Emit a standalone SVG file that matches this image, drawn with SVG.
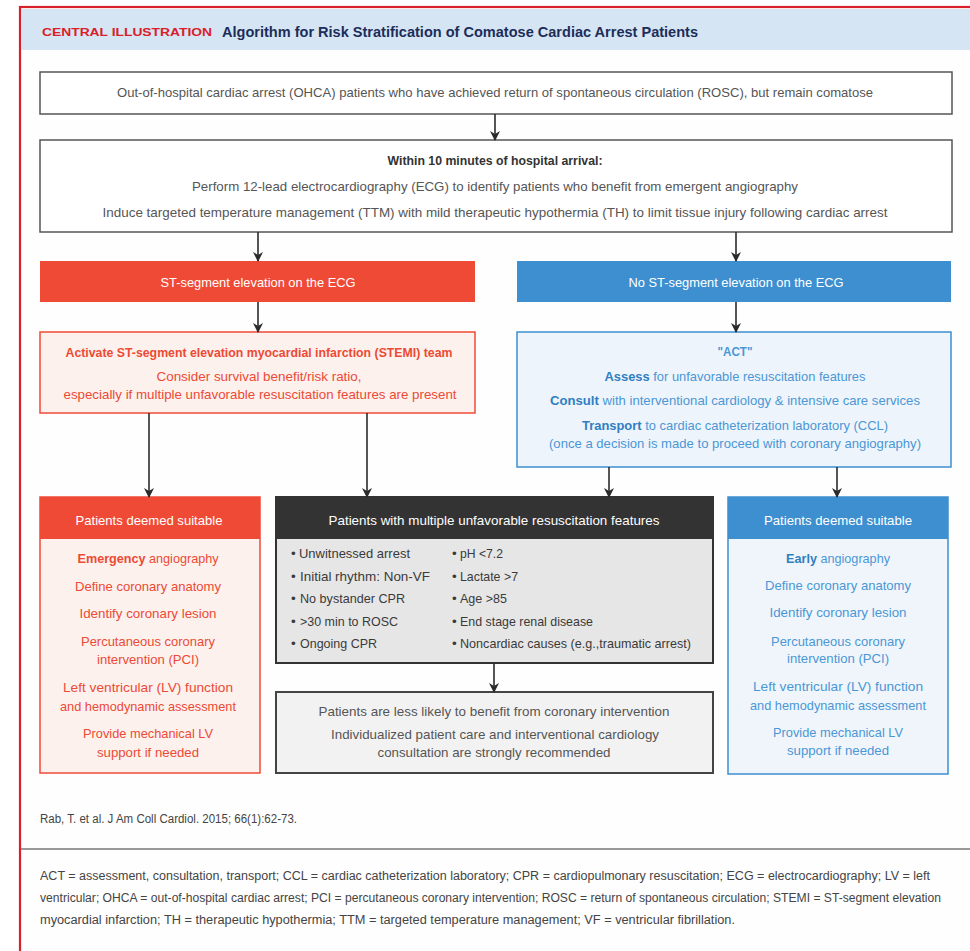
<svg xmlns="http://www.w3.org/2000/svg" width="970" height="951" viewBox="0 0 970 951">
<defs>
<marker id="ah" markerWidth="10" markerHeight="12" refX="9" refY="5" orient="auto" markerUnits="userSpaceOnUse">
<path d="M0,0 L10,5 L0,10 L3,5 z" fill="#2b2b2b"/>
</marker>
<style>
text{font-family:"Liberation Sans","Noto Sans",Arial,sans-serif;}
.gray{fill:#555;font-size:13.5px;}
.grayb{fill:#333;font-size:13.5px;}
.white{fill:#fff;font-size:13.5px;}
.red{fill:#ec4a34;font-size:13.5px;}
.blue{fill:#4a97d6;font-size:13.5px;}
.b{font-weight:bold;}
.dk{fill:#3a3a3a;font-size:13.5px;}
.foot{fill:#444;font-size:12px;}
.conn line{stroke:#2b2b2b;stroke-width:1.6;marker-end:url(#ah);}
</style>
</defs>
<rect x="0" y="0" width="970" height="951" fill="#fff"/>
<rect x="20" y="7" width="960" height="960" fill="#fefefe" stroke="#d9202a" stroke-width="2.2"/>
<rect x="21" y="9" width="949" height="41" fill="#d6e5f3"/>
<text x="42" y="36" fill="#d9202a" font-size="11" font-weight="bold" textLength="170" lengthAdjust="spacingAndGlyphs">CENTRAL ILLUSTRATION</text>
<text x="222" y="37" fill="#1c2d5a" font-size="15" font-weight="bold" textLength="476" lengthAdjust="spacingAndGlyphs">Algorithm for Risk Stratification of Comatose Cardiac Arrest Patients</text>

<g id="ohca">
<rect x="40" y="72" width="912" height="42" fill="#fff" stroke="#555" stroke-width="1.5"/>
<text class="gray" x="495" y="97" text-anchor="middle" textLength="756" lengthAdjust="spacingAndGlyphs">Out-of-hospital cardiac arrest (OHCA) patients who have achieved return of spontaneous circulation (ROSC), but remain comatose</text>
</g>
<g id="within10">
<rect x="40" y="140" width="912" height="92" fill="#fff" stroke="#555" stroke-width="1.5"/>
<text class="grayb" x="495" y="165" text-anchor="middle" textLength="215" lengthAdjust="spacingAndGlyphs" style="font-weight:600">Within 10 minutes of hospital arrival:</text>
<text class="gray" x="495" y="191" text-anchor="middle" textLength="606" lengthAdjust="spacingAndGlyphs">Perform 12-lead electrocardiography (ECG) to identify patients who benefit from emergent angiography</text>
<text class="gray" x="495" y="217" text-anchor="middle" textLength="785" lengthAdjust="spacingAndGlyphs">Induce targeted temperature management (TTM) with mild therapeutic hypothermia (TH) to limit tissue injury following cardiac arrest</text>
</g>
<g id="stelev">
<rect x="40" y="261" width="435" height="41" fill="#ef4a36"/>
<text class="white" x="258" y="287" text-anchor="middle" textLength="195" lengthAdjust="spacingAndGlyphs">ST-segment elevation on the ECG</text>
</g>
<g id="nostelev">
<rect x="517" y="261" width="434" height="41" fill="#3d8fd0"/>
<text class="white" x="736" y="287" text-anchor="middle" textLength="215" lengthAdjust="spacingAndGlyphs">No ST-segment elevation on the ECG</text>
</g>
<g id="stemi">
<rect x="40" y="332" width="435" height="81" fill="#fdf1ee" stroke="#ef4a36" stroke-width="1.5"/>
<text class="red" x="259" y="357" text-anchor="middle" textLength="387" lengthAdjust="spacingAndGlyphs" style="font-weight:600">Activate ST-segment elevation myocardial infarction (STEMI) team</text>
<text class="red" x="259" y="381" text-anchor="middle" textLength="205" lengthAdjust="spacingAndGlyphs">Consider survival benefit/risk ratio,</text>
<text class="red" x="260" y="399" text-anchor="middle" textLength="393" lengthAdjust="spacingAndGlyphs">especially if multiple unfavorable resuscitation features are present</text>
</g>
<g id="act">
<rect x="517" y="332" width="434" height="135" fill="#eef4fb" stroke="#3d8fd0" stroke-width="1.5"/>
<text class="blue" x="735" y="356" text-anchor="middle" textLength="35" lengthAdjust="spacingAndGlyphs" style="font-weight:600">"ACT"</text>
<text class="blue" x="735" y="381" text-anchor="middle" textLength="261" lengthAdjust="spacingAndGlyphs"><tspan class="b" fill="#2f7fc2">Assess</tspan> for unfavorable resuscitation features</text>
<text class="blue" x="735" y="405" text-anchor="middle" textLength="370" lengthAdjust="spacingAndGlyphs"><tspan class="b" fill="#2f7fc2">Consult</tspan> with interventional cardiology &amp; intensive care services</text>
<text class="blue" x="735" y="430" text-anchor="middle" textLength="306" lengthAdjust="spacingAndGlyphs"><tspan class="b" fill="#2f7fc2">Transport</tspan> to cardiac catheterization laboratory (CCL)</text>
<text class="blue" x="735" y="448" text-anchor="middle" textLength="372" lengthAdjust="spacingAndGlyphs">(once a decision is made to proceed with coronary angiography)</text>
</g>
<g id="suitable-red">
<rect x="40" y="497" width="220" height="276" fill="#fdf1ee" stroke="#ef4a36" stroke-width="1.5"/>
<rect x="40" y="497" width="220" height="42" fill="#ef4a36"/>
<text class="white" x="149" y="525" text-anchor="middle" textLength="147" lengthAdjust="spacingAndGlyphs">Patients deemed suitable</text>
<text class="red" x="148" y="563" text-anchor="middle" textLength="141" lengthAdjust="spacingAndGlyphs"><tspan class="b">Emergency</tspan> angiography</text>
<text class="red" x="148" y="591" text-anchor="middle" textLength="146" lengthAdjust="spacingAndGlyphs">Define coronary anatomy</text>
<text class="red" x="148" y="618" text-anchor="middle" textLength="137" lengthAdjust="spacingAndGlyphs">Identify coronary lesion</text>
<text class="red" x="148" y="646" text-anchor="middle" textLength="134" lengthAdjust="spacingAndGlyphs">Percutaneous coronary</text>
<text class="red" x="148" y="664" text-anchor="middle" textLength="102" lengthAdjust="spacingAndGlyphs">intervention (PCI)</text>
<text class="red" x="148" y="692" text-anchor="middle" textLength="170" lengthAdjust="spacingAndGlyphs">Left ventricular (LV) function</text>
<text class="red" x="148" y="711" text-anchor="middle" textLength="176" lengthAdjust="spacingAndGlyphs">and hemodynamic assessment</text>
<text class="red" x="148" y="738" text-anchor="middle" textLength="130" lengthAdjust="spacingAndGlyphs">Provide mechanical LV</text>
<text class="red" x="148" y="757" text-anchor="middle" textLength="102" lengthAdjust="spacingAndGlyphs">support if needed</text>
</g>
<g id="unfavorable">
<rect x="276" y="497" width="437" height="166" fill="#e6e6e6" stroke="#333" stroke-width="2"/>
<rect x="276" y="497" width="437" height="42" fill="#333"/>
<text class="white" x="494" y="525" text-anchor="middle" textLength="331" lengthAdjust="spacingAndGlyphs">Patients with multiple unfavorable resuscitation features</text>
<text class="dk" x="291" y="558">• <tspan x="299" textLength="111" lengthAdjust="spacingAndGlyphs">Unwitnessed arrest</tspan></text>
<text class="dk" x="291" y="581">• <tspan x="300" textLength="130" lengthAdjust="spacingAndGlyphs">Initial rhythm: Non-VF</tspan></text>
<text class="dk" x="291" y="603">• <tspan x="300" textLength="105" lengthAdjust="spacingAndGlyphs">No bystander CPR</tspan></text>
<text class="dk" x="291" y="626">• <tspan x="300" textLength="98" lengthAdjust="spacingAndGlyphs">&gt;30 min to ROSC</tspan></text>
<text class="dk" x="291" y="648">• <tspan x="300" textLength="77" lengthAdjust="spacingAndGlyphs">Ongoing CPR</tspan></text>
<text class="dk" x="452" y="558">• <tspan x="460" textLength="43" lengthAdjust="spacingAndGlyphs">pH &lt;7.2</tspan></text>
<text class="dk" x="452" y="581">• <tspan x="460" textLength="58" lengthAdjust="spacingAndGlyphs">Lactate &gt;7</tspan></text>
<text class="dk" x="452" y="603">• <tspan x="460" textLength="47" lengthAdjust="spacingAndGlyphs">Age &gt;85</tspan></text>
<text class="dk" x="452" y="626">• <tspan x="460" textLength="133" lengthAdjust="spacingAndGlyphs">End stage renal disease</tspan></text>
<text class="dk" x="452" y="648">• <tspan x="460" textLength="231" lengthAdjust="spacingAndGlyphs">Noncardiac causes (e.g.,traumatic arrest)</tspan></text>
</g>
<g id="lesslikely">
<rect x="276" y="692" width="437" height="81" fill="#f2f2f2" stroke="#444" stroke-width="2"/>
<text class="gray" x="494" y="716" text-anchor="middle" textLength="351" lengthAdjust="spacingAndGlyphs">Patients are less likely to benefit from coronary intervention</text>
<text class="gray" x="495" y="739" text-anchor="middle" textLength="328" lengthAdjust="spacingAndGlyphs">Individualized patient care and interventional cardiology</text>
<text class="gray" x="494" y="757" text-anchor="middle" textLength="233" lengthAdjust="spacingAndGlyphs">consultation are strongly recommended</text>
</g>
<g id="suitable-blue">
<rect x="728" y="497" width="220" height="277" fill="#f0f5fb" stroke="#3d8fd0" stroke-width="1.5"/>
<rect x="728" y="497" width="220" height="42" fill="#3d8fd0"/>
<text class="white" x="838" y="525" text-anchor="middle" textLength="148" lengthAdjust="spacingAndGlyphs">Patients deemed suitable</text>
<text class="blue" x="838" y="563" text-anchor="middle" textLength="104" lengthAdjust="spacingAndGlyphs"><tspan class="b" fill="#2f7fc2">Early</tspan> angiography</text>
<text class="blue" x="838" y="590" text-anchor="middle" textLength="146" lengthAdjust="spacingAndGlyphs">Define coronary anatomy</text>
<text class="blue" x="838" y="617" text-anchor="middle" textLength="137" lengthAdjust="spacingAndGlyphs">Identify coronary lesion</text>
<text class="blue" x="838" y="646" text-anchor="middle" textLength="134" lengthAdjust="spacingAndGlyphs">Percutaneous coronary</text>
<text class="blue" x="838" y="663" text-anchor="middle" textLength="102" lengthAdjust="spacingAndGlyphs">intervention (PCI)</text>
<text class="blue" x="838" y="691" text-anchor="middle" textLength="170" lengthAdjust="spacingAndGlyphs">Left ventricular (LV) function</text>
<text class="blue" x="838" y="710" text-anchor="middle" textLength="176" lengthAdjust="spacingAndGlyphs">and hemodynamic assessment</text>
<text class="blue" x="838" y="737" text-anchor="middle" textLength="130" lengthAdjust="spacingAndGlyphs">Provide mechanical LV</text>
<text class="blue" x="838" y="755" text-anchor="middle" textLength="102" lengthAdjust="spacingAndGlyphs">support if needed</text>
</g>
<g id="connectors" class="conn">
<line x1="495" y1="114" x2="495" y2="140"/>
<line x1="258" y1="232" x2="258" y2="261"/>
<line x1="736" y1="232" x2="736" y2="261"/>
<line x1="258" y1="302" x2="258" y2="332"/>
<line x1="736" y1="302" x2="736" y2="332"/>
<line x1="149" y1="413" x2="149" y2="497"/>
<line x1="367" y1="413" x2="367" y2="497"/>
<line x1="609" y1="467" x2="609" y2="497"/>
<line x1="837" y1="467" x2="837" y2="497"/>
<line x1="494" y1="663" x2="494" y2="692"/>
</g>
<g id="footer">
<text class="foot" x="40" y="823" textLength="257" lengthAdjust="spacingAndGlyphs">Rab, T. et al. J Am Coll Cardiol. 2015; 66(1):62-73.</text>
<line x1="21" y1="849" x2="970" y2="849" stroke="#777" stroke-width="1.5"/>
<text class="foot" x="40" y="880" textLength="890" lengthAdjust="spacingAndGlyphs">ACT = assessment, consultation, transport; CCL = cardiac catheterization laboratory; CPR = cardiopulmonary resuscitation; ECG = electrocardiography; LV = left</text>
<text class="foot" x="40" y="902" textLength="901" lengthAdjust="spacingAndGlyphs">ventricular; OHCA = out-of-hospital cardiac arrest; PCI = percutaneous coronary intervention; ROSC = return of spontaneous circulation; STEMI = ST-segment elevation</text>
<text class="foot" x="40" y="924" textLength="695" lengthAdjust="spacingAndGlyphs">myocardial infarction; TH = therapeutic hypothermia; TTM = targeted temperature management; VF = ventricular fibrillation.</text>
</g>
</svg>
